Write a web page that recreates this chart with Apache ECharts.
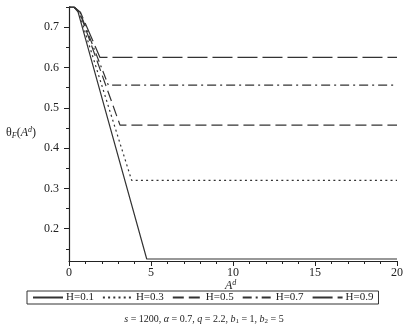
<!DOCTYPE html>
<html>
<head>
<meta charset="utf-8">
<script src="https://cdn.jsdelivr.net/npm/echarts@6/dist/echarts.min.js"></script>
<style>html,body{margin:0;padding:0;background:#fff;}#c{width:408px;height:334px;}</style>
</head>
<body>
<div id="c"></div>
<script>
// Data
const seriesNames = ['H=0.1', 'H=0.3', 'H=0.5', 'H=0.7', 'H=0.9'];
const h01 = [[0, 0.75], [0.3, 0.75], [0.55, 0.738], [4.74, 0.125], [20, 0.125]];
const h03 = [[0, 0.75], [0.3, 0.75], [0.6, 0.737], [3.82, 0.32], [20, 0.32]];
const h05 = [[0, 0.75], [0.3, 0.75], [0.65, 0.737], [3.11, 0.457], [20, 0.457]];
const h07 = [[0, 0.75], [0.3, 0.75], [0.65, 0.738], [2.40, 0.556], [20, 0.556]];
const h09 = [[0, 0.75], [0.3, 0.75], [0.7, 0.737], [1.89, 0.625], [20, 0.625]];
const yMajorTicks = [0.2, 0.3, 0.4, 0.5, 0.6, 0.7];
const yMinorTicks = [0.15, 0.25, 0.35, 0.45, 0.55, 0.65, 0.75];

const dashes = ['solid', [2, 3.2], [11, 5], [9, 4, 2, 4], [20, 5]];
const allData = [h01, h03, h05, h07, h09];
const lineColor = '#333';
const serif = 'Liberation Serif';

const chart = echarts.init(document.getElementById('c'), null, {renderer: 'canvas'});
chart.setOption({
  animation: false,
  backgroundColor: '#fff',
  grid: {left: 69, right: 11, top: 7, bottom: 73, containLabel: false},
  legend: {
    left: 27, top: 291,
    data: seriesNames,
    borderColor: '#333', borderWidth: 1,
    padding: [1, 5, 1, 5],
    itemGap: 8, itemWidth: 30, itemHeight: 10,
    itemStyle: {opacity: 0},
    textStyle: {fontFamily: serif, fontSize: 11, color: '#222', padding: [0, 0, 0, -2]}
  },
  xAxis: {
    type: 'value', min: 0, max: 20, interval: 5,
    axisLine: {onZero: false, lineStyle: {color: '#222', width: 1.2}},
    axisTick: {show: true, length: 5, lineStyle: {color: '#222'}},
    minorTick: {show: true, splitNumber: 5, length: 3, lineStyle: {color: '#222'}},
    splitLine: {show: false},
    axisLabel: {fontFamily: serif, fontSize: 12, color: '#222', margin: 6}
  },
  yAxis: [{
    type: 'value', min: 0.12, max: 0.75,
    axisLine: {show: true, onZero: false, lineStyle: {color: '#222', width: 1.2}},
    axisTick: {show: true, length: 5, customValues: yMajorTicks, lineStyle: {color: '#222'}},
    splitLine: {show: false},
    axisLabel: {customValues: yMajorTicks, fontFamily: serif, fontSize: 12, color: '#222', margin: 10,
      formatter: v => v.toFixed(1)}
  }, {
    type: 'value', min: 0.12, max: 0.75, position: 'left',
    axisLine: {show: false},
    axisTick: {show: true, length: 3, customValues: yMinorTicks, lineStyle: {color: '#222'}},
    splitLine: {show: false},
    axisLabel: {show: false, customValues: yMinorTicks}
  }],
  series: allData.map((d, i) => ({
    name: seriesNames[i], type: 'line', data: d, yAxisIndex: 0,
    symbol: 'none', showSymbol: false, smooth: false,
    lineStyle: {color: lineColor, width: 1.2, type: dashes[i]},
    itemStyle: {color: lineColor}
  })),
  graphic: [
    {type: 'text', left: 225, top: 279, style: {
      text: '{i|A}{sup|d}',
      rich: {i: {fontFamily: serif, fontStyle: 'italic', fontSize: 12, fill: '#222'},
             sup: {fontFamily: serif, fontStyle: 'italic', fontSize: 8, fill: '#222', padding: [0, 0, 6, 0]}}
    }},
    {type: 'text', left: 6, top: 126, style: {
      text: '{n|θ}{sub|F}{n|(}{i|A}{sup|d}{n|)}',
      rich: {n: {fontFamily: serif, fontSize: 12, fill: '#222'},
             i: {fontFamily: serif, fontStyle: 'italic', fontSize: 12, fill: '#222'},
             sub: {fontFamily: serif, fontStyle: 'italic', fontSize: 8, fill: '#222', padding: [6, 0, 0, 0]},
             sup: {fontFamily: serif, fontStyle: 'italic', fontSize: 8, fill: '#222', padding: [0, 0, 6, 0]}}
    }},
    {type: 'text', left: 'center', top: 314, style: {
      text: '{i|s} = 1200, {i|α} = 0.7, {i|q} = 2.2, {i|b}{sub|1} = 1, {i|b}{sub|2} = 5',
      rich: {i: {fontFamily: serif, fontStyle: 'italic', fontSize: 10, fill: '#222'},
             sub: {fontFamily: serif, fontSize: 7, fill: '#222', padding: [5, 0, 0, 0]}},
      fontFamily: serif, fontSize: 10, fill: '#222'
    }}
  ]
});
</script>
</body>
</html>
